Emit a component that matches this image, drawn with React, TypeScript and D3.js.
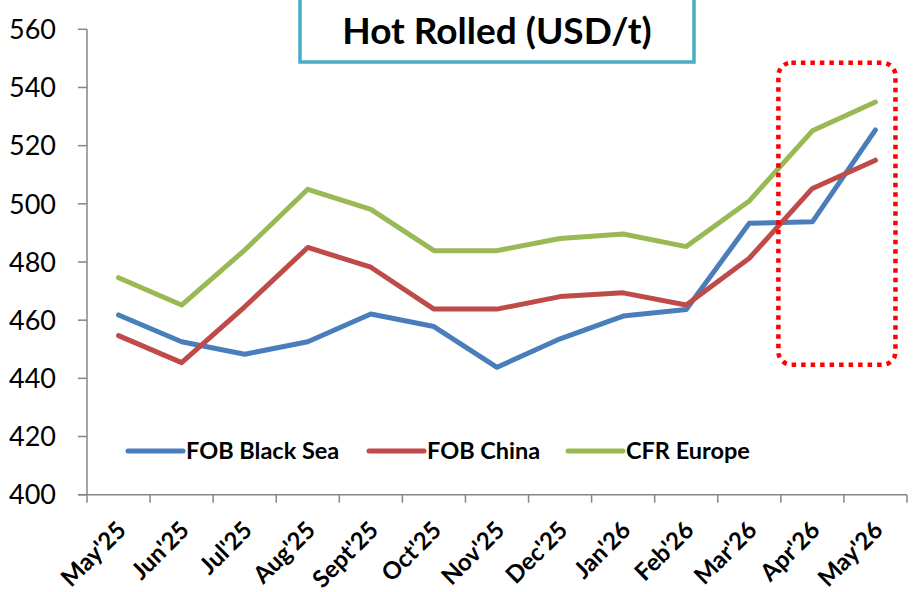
import React from "react";
import * as d3 from "d3";

const categories = ["May'25", "Jun'25", "Jul'25", "Aug'25", "Sept'25", "Oct'25", "Nov'25", "Dec'25", "Jan'26", "Feb'26", "Mar'26", "Apr'26", "May'26"];
const fobBlackSea = [461.8, 452.6, 448.3, 452.6, 462.1, 457.8, 443.8, 453.6, 461.4, 463.7, 493.3, 493.8, 525.4];
const fobChina = [454.7, 445.4, 464.6, 485, 478.2, 463.8, 463.8, 468.1, 469.4, 465.2, 481.3, 505.3, 515];
const cfrEurope = [474.6, 465.2, 484.1, 505, 498.1, 483.9, 483.9, 488.1, 489.6, 485.3, 501, 525.1, 535];
const yTicks = [400, 420, 440, 460, 480, 500, 520, 540, 560];
const seriesNames = ["FOB Black Sea", "FOB China", "CFR Europe"];
const seriesColors = ["#4a7ebb", "#be4b48", "#98b954"];
const title = "Hot Rolled (USD/t)";
const highlight = ["Apr'26", "May'26"];

const W = 914;
const H = 592;
const FONT = "Lato, 'Open Sans', sans-serif";

export default function App() {
  const x = d3.scaleBand<string>().domain(categories).range([87, 907]).padding(0);
  const y = d3.scaleLinear().domain([400, 560]).range([494.7, 29.3]);
  const cx = (c: string) => (x(c) as number) + x.bandwidth() / 2;
  const line = d3
    .line<number>()
    .x((_, i) => cx(categories[i]))
    .y((d) => y(d));
  const series = [fobBlackSea, fobChina, cfrEurope];
  const axisColor = "#868686";
  const legendX = [128, 369, 568];
  const legendY = 451;

  const hx0 = cx(highlight[0]) - 34;
  const hx1 = cx(highlight[1]) + 20;

  return (
    <div style={{ position: "absolute", left: 0, top: 0 }}>
      <svg width={W} height={H} style={{ display: "block", background: "#fff" }}>
        {/* y axis */}
        <line x1={87} x2={87} y1={y(560)} y2={y(400)} stroke={axisColor} strokeWidth={1.5} />
        {yTicks.map((t) => (
          <g key={t}>
            <line x1={78} x2={87} y1={y(t)} y2={y(t)} stroke={axisColor} strokeWidth={1.5} />
            <text x={56} y={y(t)} dy="0.36em" textAnchor="end" fontFamily={FONT} fontSize={27} fill="#000">
              {t}
            </text>
          </g>
        ))}
        {/* x axis */}
        <line x1={78} x2={907} y1={y(400)} y2={y(400)} stroke={axisColor} strokeWidth={1.5} />
        {categories.map((c, i) => (
          <line key={"t" + i} x1={x(c) as number} x2={x(c) as number} y1={y(400)} y2={y(400) + 8} stroke={axisColor} strokeWidth={1.5} />
        ))}
        <line x1={907} x2={907} y1={y(400)} y2={y(400) + 8} stroke={axisColor} strokeWidth={1.5} />
        {categories.map((c, i) => (
          <text
            key={"l" + i}
            transform={`translate(${cx(c) + 9},${y(400) + 37}) rotate(-45)`}
            textAnchor="end"
            fontFamily={FONT}
            fontWeight="bold"
            fontSize={24}
            fill="#000"
          >
            {c}
          </text>
        ))}
        {/* lines */}
        {series.map((s, i) => (
          <path key={"s" + i} d={line(s) as string} fill="none" stroke={seriesColors[i]} strokeWidth={5} strokeLinejoin="round" strokeLinecap="round" />
        ))}
        {/* legend */}
        {seriesNames.map((n, i) => (
          <g key={"lg" + i}>
            <line x1={legendX[i]} x2={legendX[i] + 55} y1={legendY} y2={legendY} stroke={seriesColors[i]} strokeWidth={5} strokeLinecap="round" />
            <text x={legendX[i] + 58} y={legendY} dy="0.36em" fontFamily={FONT} fontWeight="bold" fontSize={23.5} fill="#000">
              {n}
            </text>
          </g>
        ))}
        {/* title box */}
        <rect x={300} y={-10} width={394} height={72} fill="#fff" stroke="#4bacc6" strokeWidth={3.5} />
        <text x={497} y={44} textAnchor="middle" fontFamily={FONT} fontWeight="bold" fontSize={37} fill="#000">
          {title}
        </text>
        {/* highlight */}
        <rect
          x={hx0}
          y={62.7}
          width={hx1 - hx0}
          height={302}
          rx={13}
          ry={13}
          fill="none"
          stroke="#ff0000"
          strokeWidth={4.5}
          strokeDasharray="4.5 5"
        />
      </svg>
    </div>
  );
}
